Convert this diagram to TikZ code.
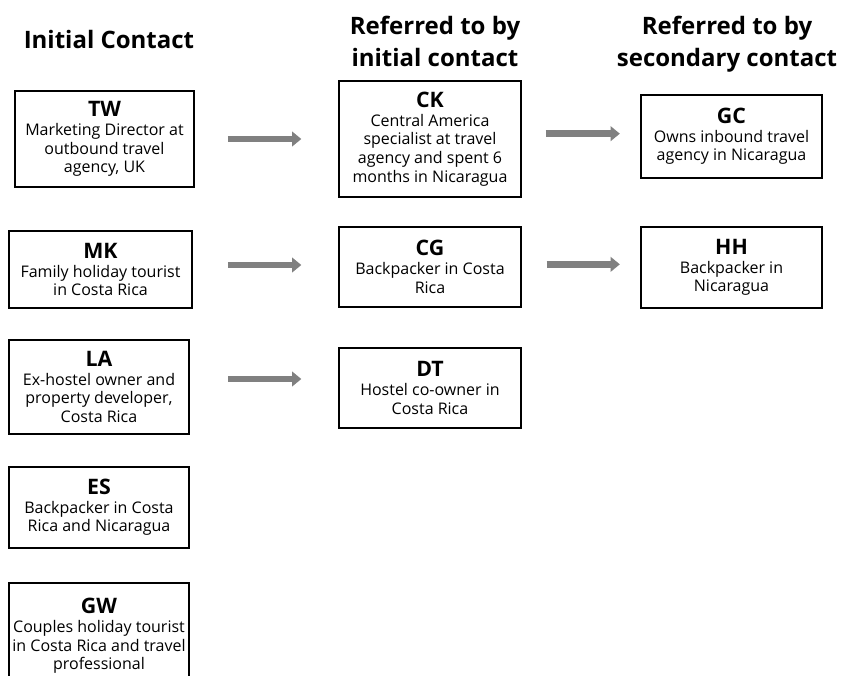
\documentclass[tikz,border=0pt]{standalone}
\usepackage{fontspec}
\setmainfont{Open Sans}
\usepackage{tikz}
\usetikzlibrary{arrows.meta, positioning}

\tikzset{
  heading/.style={align=center, inner sep=0pt, font=\fontsize{18}{24}\selectfont\bfseries},
  person/.style={draw, line width=1.5pt, align=center, inner sep=1pt, minimum width=136pt, font=\fontsize{12}{14}\selectfont},
  refer/.style={draw=black!50, line width=5pt, -{Triangle[length=7pt,width=11pt]}}
}
\newcommand{\who}[1]{{\fontsize{16}{17}\selectfont\bfseries #1}}

\begin{document}
\begin{tikzpicture}[x=0.75pt, y=-0.75pt]
\useasboundingbox (0,0) rectangle (842,675);
% The column headings
\node[heading] (hinit) at (109,39) {Initial Contact};
\node[heading, anchor=north] (hsec) at (435,16) {Referred to by\\initial contact};
\node[heading, anchor=north] (hter) at (727,16) {Referred to by\\secondary contact};
% Initial contacts
\node[person, minimum width=134pt, minimum height=72pt] (TW) at (104.5,139) {\who{TW}\\Marketing Director at\\outbound travel\\agency, UK};
\node[person, minimum width=137pt, minimum height=58pt] (MK) at (100.5,269.5) {\who{MK}\\Family holiday tourist\\in Costa Rica};
\node[person, minimum width=135pt, minimum height=70.5pt] (LA) at (99,387) {\who{LA}\\Ex-hostel owner and\\property developer,\\Costa Rica};
\node[person, minimum width=135pt, minimum height=61pt] (ES) at (99,507.5) {\who{ES}\\Backpacker in Costa\\Rica and Nicaragua};
\node[person, minimum width=135pt, minimum height=80pt] (GW) at (99,636) {\who{GW}\\Couples holiday tourist\\in Costa Rica and travel\\professional};
% Secondary contacts
\node[person, minimum height=87pt] (CK) at (430,139) {\who{CK}\\Central America\\specialist at travel\\agency and spent 6\\months in Nicaragua};
\node[person, minimum height=60pt] (CG) at (430,267) {\who{CG}\\Backpacker in Costa\\Rica};
\node[person, minimum height=60pt] (DT) at (430,388) {\who{DT}\\Hostel co-owner in\\Costa Rica};
% Tertiary contacts
\node[person, minimum height=62pt] (GC) at (731.5,136.5) {\who{GC}\\Owns inbound travel\\agency in Nicaragua};
\node[person, minimum height=61pt] (HH) at (731.5,267.5) {\who{HH}\\Backpacker in\\Nicaragua};
% Referrals
\draw[refer, shorten <=24.75pt, shorten >=27.75pt] (TW.east) -- (TW.east -| CK.west);
\draw[refer, shorten <=26.25pt, shorten >=27.75pt] ([yshift=1.5pt]CG.west -| MK.east) -- ([yshift=1.5pt]CG.west);
\draw[refer, shorten <=28.5pt, shorten >=27.75pt] ([yshift=6pt]LA.east) -- ([yshift=6pt]LA.east -| DT.west);
\draw[refer, shorten <=18pt, shorten >=15pt] ([yshift=4pt]CK.east) -- ([yshift=4pt]CK.east -| GC.west);
\draw[refer, shorten <=18.75pt, shorten >=15pt] ([yshift=2pt]CG.east) -- ([yshift=2pt]CG.east -| HH.west);
\end{tikzpicture}
\end{document}
